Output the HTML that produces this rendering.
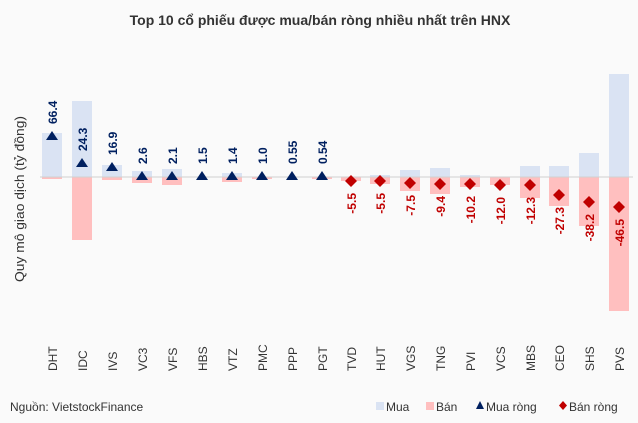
<!DOCTYPE html>
<html><head><meta charset="utf-8"><style>
html,body{margin:0;padding:0;background:#fafafa;}
svg{display:block;font-family:"Liberation Sans",sans-serif;}
</style></head><body>
<svg width="638" height="423" viewBox="0 0 638 423">
<rect width="638" height="423" fill="#fafafa"/>
<text x="320" y="25" text-anchor="middle" font-size="14" font-weight="bold" fill="#333">Top 10 cổ phiếu được mua/bán ròng nhiều nhất trên HNX</text>
<text transform="translate(24,199) rotate(-90)" text-anchor="middle" font-size="13" fill="#333" textLength="166" lengthAdjust="spacingAndGlyphs">Quy mô giao dịch (tỷ đồng)</text>
<g fill="#dae3f3">
<rect x="42" y="133" width="20" height="44"/>
<rect x="72" y="101" width="20" height="76"/>
<rect x="102" y="165" width="20" height="12"/>
<rect x="132" y="171" width="20" height="6"/>
<rect x="162" y="169" width="20" height="8"/>
<rect x="222" y="173" width="20" height="4"/>
<rect x="370" y="175" width="20" height="2"/>
<rect x="400" y="170" width="20" height="7"/>
<rect x="430" y="168" width="20" height="9"/>
<rect x="460" y="175" width="20" height="2"/>
<rect x="520" y="166" width="20" height="11"/>
<rect x="549" y="166" width="20" height="11"/>
<rect x="579" y="153" width="20" height="24"/>
<rect x="609" y="74" width="20" height="103"/>
</g>
<g fill="#ffbfbf">
<rect x="42" y="177" width="20" height="2"/>
<rect x="72" y="177" width="20" height="63"/>
<rect x="102" y="177" width="20" height="3"/>
<rect x="132" y="177" width="20" height="6"/>
<rect x="162" y="177" width="20" height="8"/>
<rect x="222" y="177" width="20" height="5"/>
<rect x="252" y="177" width="20" height="2"/>
<rect x="312" y="177" width="20" height="2"/>
<rect x="341" y="177" width="20" height="4"/>
<rect x="370" y="177" width="20" height="7"/>
<rect x="400" y="177" width="20" height="14"/>
<rect x="430" y="177" width="20" height="17"/>
<rect x="460" y="177" width="20" height="10"/>
<rect x="490" y="177" width="20" height="8"/>
<rect x="520" y="177" width="20" height="21"/>
<rect x="549" y="177" width="20" height="29"/>
<rect x="579" y="177" width="20" height="49"/>
<rect x="609" y="177" width="20" height="134"/>
</g>
<line x1="40" y1="177" x2="633" y2="177" stroke="#d0d0d0" stroke-width="1"/>
<g fill="#002060">
<path d="M52,131 l6,9 h-12z"/>
<path d="M82,158 l6,9 h-12z"/>
<path d="M112,162 l6,9 h-12z"/>
<path d="M142,171 l6,9 h-12z"/>
<path d="M172,171 l6,9 h-12z"/>
<path d="M202,171 l6,9 h-12z"/>
<path d="M232,171 l6,9 h-12z"/>
<path d="M262,171 l6,9 h-12z"/>
<path d="M292,171 l6,9 h-12z"/>
<path d="M322,171 l6,9 h-12z"/>
</g>
<g fill="#002060" font-size="12" font-weight="bold">
<text transform="translate(57,124) rotate(-90)">66.4</text>
<text transform="translate(87,151) rotate(-90)">24.3</text>
<text transform="translate(117,155) rotate(-90)">16.9</text>
<text transform="translate(147,164) rotate(-90)">2.6</text>
<text transform="translate(177,164) rotate(-90)">2.1</text>
<text transform="translate(207,164) rotate(-90)">1.5</text>
<text transform="translate(237,164) rotate(-90)">1.4</text>
<text transform="translate(267,164) rotate(-90)">1.0</text>
<text transform="translate(297,164) rotate(-90)">0.55</text>
<text transform="translate(327,164) rotate(-90)">0.54</text>
</g>
<g fill="#c00000">
<path d="M351,175 l6,6 l-6,6 l-6,-6z"/>
<path d="M380,175 l6,6 l-6,6 l-6,-6z"/>
<path d="M410,177 l6,6 l-6,6 l-6,-6z"/>
<path d="M440,178 l6,6 l-6,6 l-6,-6z"/>
<path d="M470,178 l6,6 l-6,6 l-6,-6z"/>
<path d="M500,179 l6,6 l-6,6 l-6,-6z"/>
<path d="M530,179 l6,6 l-6,6 l-6,-6z"/>
<path d="M559,189 l6,6 l-6,6 l-6,-6z"/>
<path d="M589,196 l6,6 l-6,6 l-6,-6z"/>
<path d="M619,201 l6,6 l-6,6 l-6,-6z"/>
</g>
<g fill="#c00000" font-size="12" font-weight="bold" text-anchor="end">
<text transform="translate(356,193) rotate(-90)">-5.5</text>
<text transform="translate(385,193) rotate(-90)">-5.5</text>
<text transform="translate(415,195) rotate(-90)">-7.5</text>
<text transform="translate(445,196) rotate(-90)">-9.4</text>
<text transform="translate(475,196) rotate(-90)">-10.2</text>
<text transform="translate(505,197) rotate(-90)">-12.0</text>
<text transform="translate(535,197) rotate(-90)">-12.3</text>
<text transform="translate(564,207) rotate(-90)">-27.3</text>
<text transform="translate(594,214) rotate(-90)">-38.2</text>
<text transform="translate(624,219) rotate(-90)">-46.5</text>
</g>
<g fill="#333" font-size="12">
<text transform="translate(57,371) rotate(-90)">DHT</text>
<text transform="translate(87,371) rotate(-90)">IDC</text>
<text transform="translate(117,371) rotate(-90)">IVS</text>
<text transform="translate(147,371) rotate(-90)">VC3</text>
<text transform="translate(177,371) rotate(-90)">VFS</text>
<text transform="translate(207,371) rotate(-90)">HBS</text>
<text transform="translate(237,371) rotate(-90)">VTZ</text>
<text transform="translate(267,371) rotate(-90)">PMC</text>
<text transform="translate(297,371) rotate(-90)">PPP</text>
<text transform="translate(327,371) rotate(-90)">PGT</text>
<text transform="translate(356,371) rotate(-90)">TVD</text>
<text transform="translate(385,371) rotate(-90)">HUT</text>
<text transform="translate(415,371) rotate(-90)">VGS</text>
<text transform="translate(445,371) rotate(-90)">TNG</text>
<text transform="translate(475,371) rotate(-90)">PVI</text>
<text transform="translate(505,371) rotate(-90)">VCS</text>
<text transform="translate(535,371) rotate(-90)">MBS</text>
<text transform="translate(564,371) rotate(-90)">CEO</text>
<text transform="translate(594,371) rotate(-90)">SHS</text>
<text transform="translate(624,371) rotate(-90)">PVS</text>
</g>
<text x="10" y="411" font-size="12" fill="#333">Nguồn: VietstockFinance</text>
<g font-size="12" fill="#333">
<rect x="376" y="402" width="8" height="8" fill="#dae3f3"/><text x="386" y="411">Mua</text>
<rect x="426" y="402" width="8" height="8" fill="#ffbfbf"/><text x="436" y="411">Bán</text>
<path d="M480,401 l4,8 h-8z" fill="#002060"/><text x="486" y="411">Mua ròng</text>
<path d="M563,401 l4,4.5 l-4,4.5 l-4,-4.5z" fill="#c00000"/><text x="569" y="411">Bán ròng</text>
</g>
</svg>
</body></html>
